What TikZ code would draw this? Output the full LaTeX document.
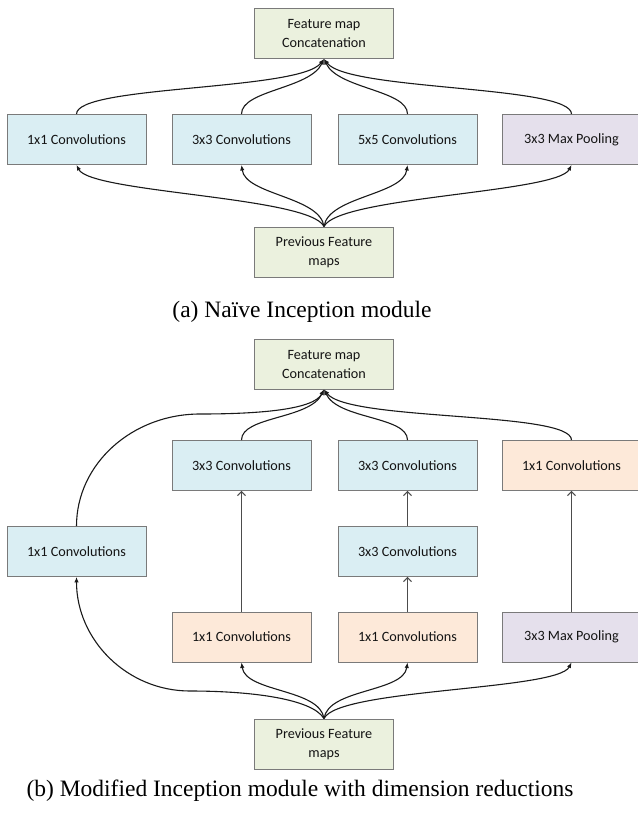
\documentclass[tikz,border=0pt]{standalone}
\usepackage{fontspec}
\setmainfont{Liberation Serif}
\newfontfamily\boxfont{Carlito}
\usetikzlibrary{arrows.meta}
\definecolor{bluefill}{HTML}{DAEEF3}
\definecolor{greenfill}{HTML}{EBF1DE}
\definecolor{orangefill}{HTML}{FDE9D9}
\definecolor{purplefill}{HTML}{E5E0EC}
\definecolor{boxline}{HTML}{7A7A7A}
\definecolor{connline}{HTML}{1A1A1A}
\begin{document}
\begin{tikzpicture}[x=1pt,y=-1pt,
  box/.style={draw=boxline, line width=0.9pt, minimum width=139pt, minimum height=50pt,
    inner sep=0pt, align=center, font=\boxfont\fontsize{14.2}{19}\selectfont, text=black!92},
  bluebox/.style={box, fill=bluefill},
  greenbox/.style={box, fill=greenfill},
  orangebox/.style={box, fill=orangefill},
  purplebox/.style={box, fill=purplefill},
  conn/.style={draw=connline, line width=1.1pt, -{Latex[length=5.5pt,width=4.5pt]}},
  vconn/.style={draw=black!70, line width=1pt, -{Straight Barb[length=4pt,width=8pt]}},
  caption/.style={font=\fontsize{23.5}{28}\selectfont, anchor=base, inner sep=0pt}
]
\fill[white] (0,0) rectangle (637,816);
\useasboundingbox (0,0) rectangle (637,816);

% ---------- (a) ----------
\node[greenbox] (ta) at (324,33.5) {Feature map\\Concatenation};
\node[bluebox] (a1) at (76.5,139.5) {1x1 Convolutions};
\node[bluebox] (a2) at (241.5,139.5) {3x3 Convolutions};
\node[bluebox] (a3) at (407.5,139.5) {5x5 Convolutions};
\node[purplebox] (a4) at (571.5,139.5) {3x3 Max Pooling};
\node[greenbox] (pa) at (324,252) {Previous Feature\\maps};
\node[caption] (capa) at (302,317) {(a) Naïve Inception module};

\draw[conn] (a1.north) .. controls +(0,-29) and +(-24,32) .. (ta.south);
\draw[conn] (a2.north) .. controls +(0,-24) and +(-14,30) .. (ta.south);
\draw[conn] (a3.north) .. controls +(0,-24) and +(14,30) .. (ta.south);
\draw[conn] (a4.north) .. controls +(0,-29) and +(24,32) .. (ta.south);

\draw[conn] (pa.north) .. controls +(-14,-30) and +(14,28) .. (a1.south);
\draw[conn] (pa.north) .. controls +(-4,-30) and +(4,30) .. (a2.south);
\draw[conn] (pa.north) .. controls +(4,-30) and +(-4,30) .. (a3.south);
\draw[conn] (pa.north) .. controls +(14,-30) and +(-14,28) .. (a4.south);

% ---------- (b) ----------
\node[greenbox] (tb) at (324,364) {Feature map\\Concatenation};
\node[bluebox] (b12) at (241.5,465.5) {3x3 Convolutions};
\node[bluebox] (b13) at (407.5,465.5) {3x3 Convolutions};
\node[orangebox] (b14) at (571.5,465.5) {1x1 Convolutions};
\node[bluebox] (b21) at (76.5,551.5) {1x1 Convolutions};
\node[bluebox] (b23) at (407.5,551.5) {3x3 Convolutions};
\node[orangebox] (b32) at (241.5,637) {1x1 Convolutions};
\node[orangebox] (b33) at (407.5,637) {1x1 Convolutions};
\node[purplebox] (b34) at (571.5,637) {3x3 Max Pooling};
\node[greenbox] (pb) at (324,744) {Previous Feature\\maps};
\node[caption] (capb) at (300,796) {(b) Modified Inception module with dimension reductions};

\coordinate (lt) at (200,414);
\coordinate (lb) at (190,691);

\draw[conn] (b21.north) .. controls +(0,-62) and +(-68,0) .. (lt)
            .. controls +(60,0) and +(-10,20) .. (tb.south);
\draw[conn] (b12.north) .. controls +(0,-24) and +(-14,30) .. (tb.south);
\draw[conn] (b13.north) .. controls +(0,-24) and +(14,30) .. (tb.south);
\draw[conn] (b14.north) .. controls +(0,-29) and +(24,32) .. (tb.south);

\draw[vconn] (b32.north) -- (b12.south);
\draw[vconn] (b33.north) -- (b23.south);
\draw[vconn] (b23.north) -- (b13.south);
\draw[vconn] (b34.north) -- (b14.south);

\draw[conn] (pb.north) .. controls +(-12,-20) and +(60,0) .. (lb)
            .. controls +(-63,0) and +(0,63) .. (b21.south);
\draw[conn] (pb.north) .. controls +(-4,-30) and +(4,30) .. (b32.south);
\draw[conn] (pb.north) .. controls +(4,-30) and +(-4,30) .. (b33.south);
\draw[conn] (pb.north) .. controls +(14,-30) and +(-14,28) .. (b34.south);
\end{tikzpicture}
\end{document}
